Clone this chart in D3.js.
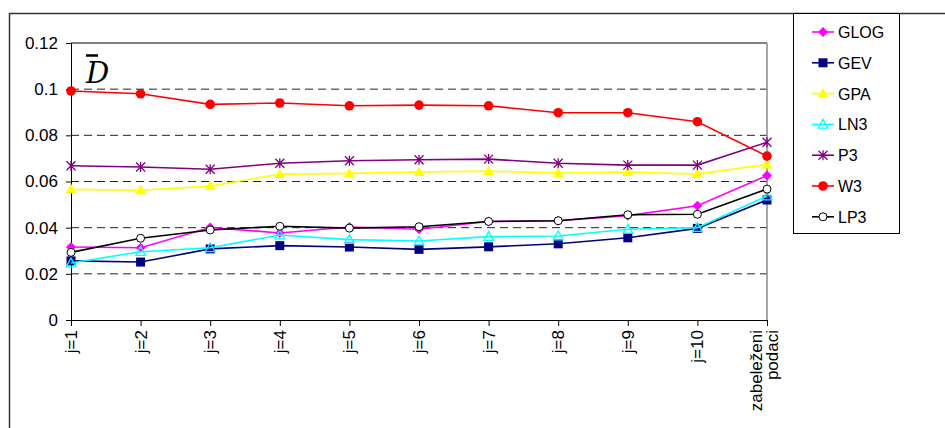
<!DOCTYPE html>
<html><head><meta charset="utf-8">
<script src="https://cdn.jsdelivr.net/npm/d3@7"></script>
<style>body{margin:0;background:#fff}svg{display:block}</style>
</head><body>
<script>
const categories = ["j=1","j=2","j=3","j=4","j=5","j=6","j=7","j=8","j=9","j=10","zabeleženi|podaci"];
const yTicks = [0,0.02,0.04,0.06,0.08,0.1,0.12];
const GLOG = [0.0316,0.0313,0.0401,0.0377,0.0403,0.0393,0.0427,0.0430,0.0452,0.0495,0.0626];
const GEV  = [0.0256,0.0251,0.0308,0.0322,0.0316,0.0306,0.0317,0.0330,0.0356,0.0397,0.0520];
const GPA  = [0.0566,0.0562,0.0580,0.0632,0.0635,0.0641,0.0645,0.0637,0.0641,0.0632,0.0674];
const LN3  = [0.0247,0.0296,0.0313,0.0368,0.0348,0.0342,0.0361,0.0364,0.0393,0.0400,0.0537];
const P3   = [0.0668,0.0663,0.0653,0.0679,0.0690,0.0694,0.0697,0.0679,0.0671,0.0671,0.0770];
const W3   = [0.0992,0.0980,0.0934,0.0940,0.0928,0.0931,0.0928,0.0898,0.0898,0.0859,0.0710];
const LP3  = [0.0293,0.0354,0.0390,0.0406,0.0398,0.0404,0.0427,0.0430,0.0456,0.0458,0.0567];

const series = [
  {name:"GLOG", values:GLOG, color:"#FF00FF", marker:"diamond"},
  {name:"GEV",  values:GEV,  color:"#000080", marker:"square"},
  {name:"GPA",  values:GPA,  color:"#FFFF00", marker:"triangle"},
  {name:"LN3",  values:LN3,  color:"#00FFFF", marker:"triangleOpen"},
  {name:"P3",   values:P3,   color:"#800080", marker:"asterisk"},
  {name:"W3",   values:W3,   color:"#FF0000", marker:"circle"},
  {name:"LP3",  values:LP3,  color:"#000000", marker:"circleOpen"}
];

const W = 945, H = 428;
const svg = d3.select("body").append("svg").attr("width",W).attr("height",H);
const font = "'Liberation Sans', Arial, sans-serif";

// outer border
svg.append("path").attr("d",`M9.5,${H} V13.5 H${W}`).attr("fill","none").attr("stroke","#333").attr("stroke-width",1.5);

const x = d3.scalePoint().domain(categories).range([71,767]);
const y = d3.scaleLinear().domain([0,0.12]).range([320,43]);

// gridlines
const g = svg.append("g");
g.selectAll("line.grid").data(yTicks.filter(t=>t>0 && t<0.12)).join("line")
  .attr("x1",71).attr("x2",767).attr("y1",d=>y(d)).attr("y2",d=>y(d))
  .attr("stroke","#222").attr("stroke-width",1).attr("stroke-dasharray","8,5");
// plot border top and right
g.append("line").attr("x1",71).attr("x2",767).attr("y1",y(0.12)).attr("y2",y(0.12)).attr("stroke","#000");
g.append("line").attr("x1",767).attr("x2",767).attr("y1",y(0.12)).attr("y2",y(0)).attr("stroke","#888").attr("stroke-width",1.5);

// y axis
const yAxis = svg.append("g").attr("transform","translate(71,0)")
  .call(d3.axisLeft(y).tickValues(yTicks).tickSize(5).tickPadding(8).tickFormat(d=>d===0?"0":String(+d.toFixed(2))));
yAxis.select(".domain").attr("stroke","#000");
yAxis.selectAll("text").attr("font-family",font).attr("font-size",17).attr("fill","#000");

// x axis
const xAxis = svg.append("g").attr("transform","translate(0,320)")
  .call(d3.axisBottom(x).tickSize(6).tickSizeOuter(0).tickFormat(""));
xAxis.select(".domain").attr("stroke","#000");
xAxis.selectAll(".tick text").remove();
categories.forEach(c=>{
  const lines = c.split("|");
  const offs = lines.length===1 ? [6] : [-5,11];
  lines.forEach((ln,i)=>{
    svg.append("text").attr("transform",`translate(${x(c)+offs[i]},330) rotate(-90)`)
      .attr("text-anchor","end").attr("font-family",font).attr("font-size",17).attr("fill","#000").text(ln);
  });
});

// D-bar label
svg.append("text").attr("x",86).attr("y",83).attr("font-family","'DejaVu Serif', serif").attr("font-style","italic")
  .attr("font-size",29).attr("fill","#000").text("D");
svg.append("line").attr("x1",86).attr("x2",98).attr("y1",55.5).attr("y2",55.5).attr("stroke","#000").attr("stroke-width",2.5);

function drawMarker(sel, m, color, cx, cy){
  const gg = sel.append("g").attr("transform",`translate(${cx},${cy})`);
  switch(m){
    case "diamond": gg.append("path").attr("d","M0,-5L5,0L0,5L-5,0Z").attr("fill",color); break;
    case "square": gg.append("rect").attr("x",-4.5).attr("y",-4.5).attr("width",9).attr("height",9).attr("fill",color); break;
    case "triangle": gg.append("path").attr("d","M0,-5.5L5.5,4L-5.5,4Z").attr("fill",color); break;
    case "triangleOpen": gg.append("path").attr("d","M0,-5L4.8,3.8L-4.8,3.8Z").attr("fill","none").attr("stroke",color).attr("stroke-width",1.3); break;
    case "asterisk": gg.append("path").attr("d","M-4.5,-4.5L4.5,4.5M-4.5,4.5L4.5,-4.5M0,-5V5").attr("stroke",color).attr("stroke-width",1.3); break;
    case "circle": gg.append("circle").attr("r",4.8).attr("fill",color); break;
    case "circleOpen": gg.append("circle").attr("r",4).attr("fill","#fff").attr("stroke",color).attr("stroke-width",1); break;
  }
}

const line = d3.line().x((d,i)=>x(categories[i])).y(d=>y(d));
series.forEach(s=>{
  const sg = svg.append("g");
  sg.append("path").datum(s.values).attr("d",line).attr("fill","none").attr("stroke",s.color).attr("stroke-width",1.6);
  s.values.forEach((v,i)=>drawMarker(sg,s.marker,s.color,x(categories[i]),y(v)));
});

// legend
svg.append("rect").attr("x",793.5).attr("y",13.5).attr("width",106).attr("height",220).attr("fill","#fff").attr("stroke","#000");
series.forEach((s,i)=>{
  const ly = 32 + i*30.8;
  const lg = svg.append("g");
  lg.append("line").attr("x1",812).attr("x2",834).attr("y1",ly).attr("y2",ly).attr("stroke",s.color).attr("stroke-width",1.6);
  drawMarker(lg,s.marker,s.color,823,ly);
  lg.append("text").attr("x",838).attr("y",ly+6).attr("font-family",font).attr("font-size",16).attr("fill","#000").text(s.name);
});
</script>
</body></html>
